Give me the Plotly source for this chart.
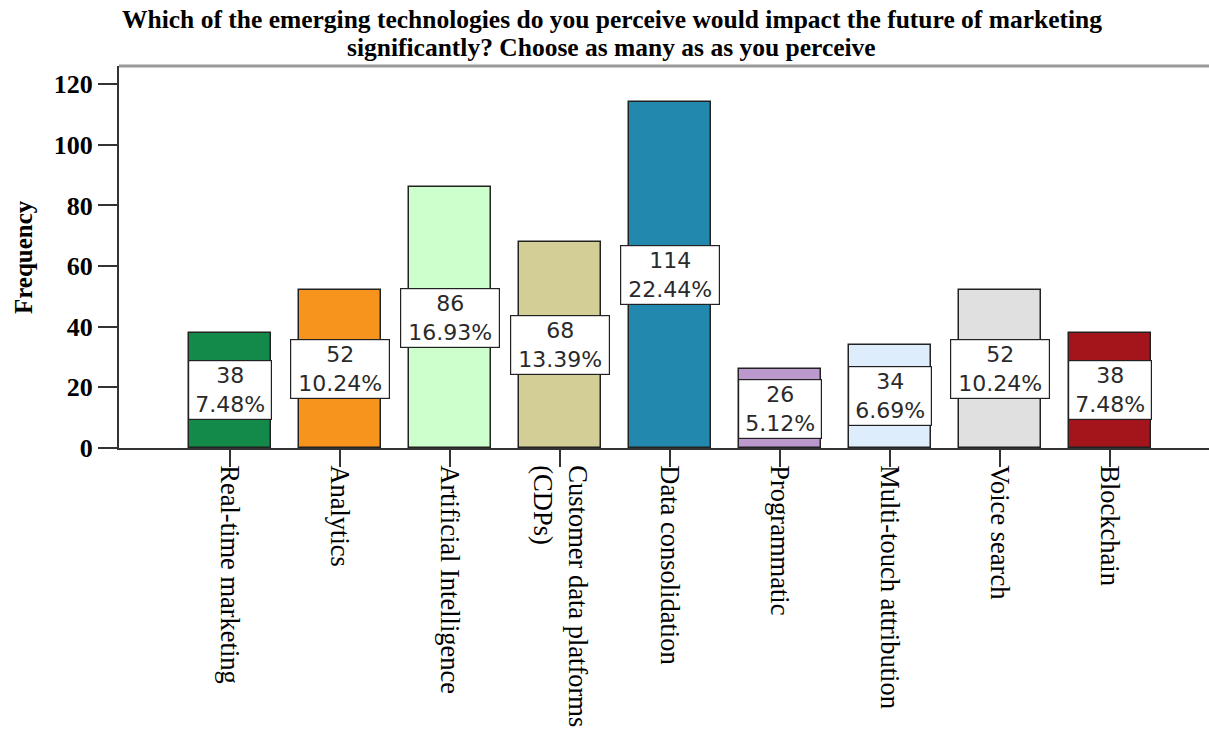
import plotly.graph_objects as go

# ---- data ----
categories = [
    "Real-time marketing",
    "Analytics",
    "Artificial Intelligence",
    "Customer data platforms<br>(CDPs)",
    "Data consolidation",
    "Programmatic",
    "Multi-touch attribution",
    "Voice search",
    "Blockchain",
]
counts = [38, 52, 86, 68, 114, 26, 34, 52, 38]
percents = ["7.48%", "10.24%", "16.93%", "13.39%", "22.44%", "5.12%", "6.69%", "10.24%", "7.48%"]
bar_colors = ["#13894a", "#f7941e", "#ccffcc", "#d3cd96", "#2288ad",
              "#bb99cc", "#deedfb", "#e0e0e0", "#a3151b"]
y_ticks = [0, 20, 40, 60, 80, 100, 120]
title_lines = [
    "Which of the emerging technologies do you perceive would impact the future of marketing",
    "significantly? Choose as many as as you perceive",
]
y_title = "Frequency"

SERIF = "Liberation Serif, Times New Roman, serif"
SANS = "DejaVu Sans, Verdana, sans-serif"

fig = go.Figure()
fig.add_trace(go.Bar(
    x=categories, y=counts, width=0.745,
    marker=dict(color=bar_colors, line=dict(color="#222222", width=1.5)),
    hoverinfo="skip",
))

annotations = []
for cat, c, p in zip(categories, counts, percents):
    annotations.append(dict(
        x=cat, y=c / 2, xref="x", yref="y",
        text=f"{c}<br>{p}", showarrow=False,
        font=dict(family=SANS, size=22, color="#2a2a2a"),
        bgcolor="white", bordercolor="#222222", borderwidth=1.2, borderpad=1,
        width=16 * len(p), height=56, align="center", valign="middle",
    ))

# title (two lines)
for i, shift in enumerate([47, 19]):
    annotations.append(dict(x=0.452, y=1, xref="paper", yref="paper", yshift=shift,
                            text=title_lines[i], showarrow=False, yanchor="middle",
                            font=dict(family=SERIF, size=25.5, color="black", weight="bold")))
# y-axis title
annotations.append(dict(x=-0.088, y=0.5, xref="paper", yref="paper",
                        text=y_title, showarrow=False, textangle=-90,
                        xanchor="center", yanchor="middle",
                        font=dict(family=SERIF, size=25, color="black", weight="bold")))

fig.update_layout(
    width=1209, height=729,
    margin=dict(l=119, r=0, t=66, b=281),
    paper_bgcolor="white", plot_bgcolor="white",
    showlegend=False,
    annotations=annotations,
    shapes=[dict(type="line", xref="paper", yref="paper", x0=0, x1=1, y0=1, y1=1,
                 line=dict(color="#999999", width=3))],
    bargap=0,
)
fig.update_xaxes(
    range=[-1.01, 8.9], showgrid=False, zeroline=False,
    showline=True, linecolor="#333333", linewidth=2,
    ticks="outside", ticklen=17, tickwidth=2, tickcolor="#333333",
    tickangle=90, tickfont=dict(family=SERIF, size=26.5, color="black"),
    ticklabelstandoff=-7,
    automargin=False,
)
fig.update_yaxes(
    range=[0, 126], tickvals=y_ticks, showgrid=False, zeroline=False,
    showline=True, linecolor="#333333", linewidth=2,
    ticks="outside", ticklen=19, tickwidth=2, tickcolor="#333333",
    tickfont=dict(family=SERIF, size=26, color="black", weight="bold"),
    automargin=False,
)

fig.write_html("out.html")
